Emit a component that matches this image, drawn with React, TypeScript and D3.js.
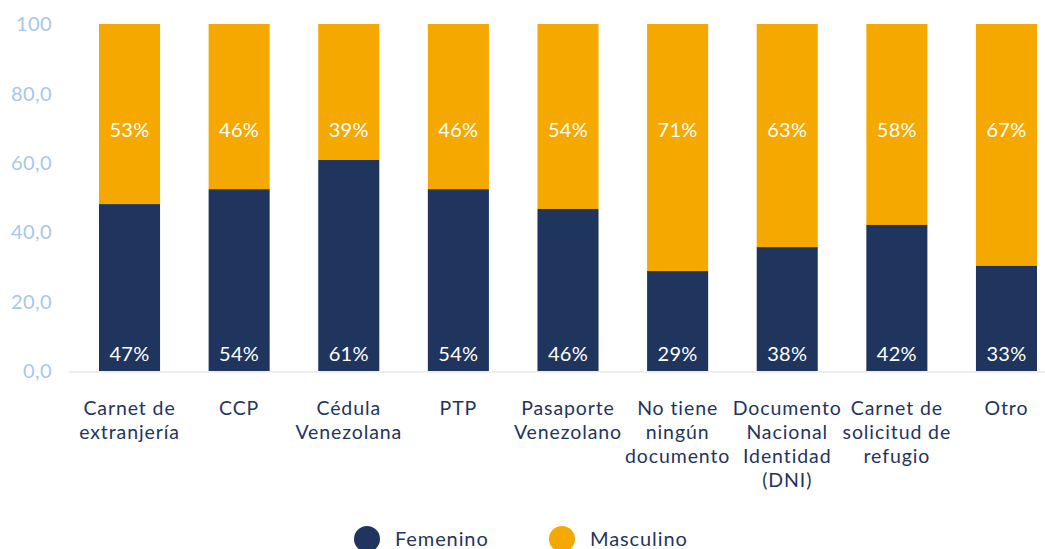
import React from "react";
import * as d3 from "d3";

const categories: string[][] = [
  ["Carnet de", "extranjería"],
  ["CCP"],
  ["Cédula", "Venezolana"],
  ["PTP"],
  ["Pasaporte", "Venezolano"],
  ["No tiene", "ningún", "documento"],
  ["Documento", "Nacional", "Identidad", "(DNI)"],
  ["Carnet de", "solicitud de", "refugio"],
  ["Otro"],
];
const femenino: number[] = [48.1, 52.4, 60.8, 52.4, 46.7, 28.8, 35.7, 42.1, 30.3];
const femeninoLabels: string[] = ["47%", "54%", "61%", "54%", "46%", "29%", "38%", "42%", "33%"];
const masculinoLabels: string[] = ["53%", "46%", "39%", "46%", "54%", "71%", "63%", "58%", "67%"];
const yTicks: number[] = [0, 20, 40, 60, 80, 100];
const seriesNames: string[] = ["Femenino", "Masculino"];

const W = 1045;
const H = 549;
const NAVY = "#1f355e";
const ORANGE = "#f5a800";
const TICK = "#a8c7eb";
const FONT = "Lato, 'Open Sans', sans-serif";

export default function App() {
  const ids = categories.map((_, i) => String(i));
  const x = d3.scaleBand<string>().domain(ids).range([99, 1037]).paddingInner(0.443).paddingOuter(0);
  const y = d3.scaleLinear().domain([0, 100]).range([371, 24]);
  const color = d3.scaleOrdinal<string, string>().domain(seriesNames).range([NAVY, ORANGE]);
  const fmt = (v: number) => (v === 100 ? "100" : d3.format(".1f")(v).replace(".", ","));

  return (
    <svg width={W} height={H} style={{ position: "absolute", left: 0, top: 0, fontFamily: FONT }}>
      <line x1={69} x2={W} y1={y(0) + 1} y2={y(0) + 1} stroke="#eeeeee" strokeWidth={2} />
      {yTicks.map((t) => (
        <text key={t} x={52} y={y(t)} dy="0.36em" textAnchor="end" fontSize={20} fill={TICK} letterSpacing={0.4}>
          {fmt(t)}
        </text>
      ))}
      {ids.map((id, i) => {
        const x0 = x(id)!;
        const bw = x.bandwidth();
        const cx = x0 + bw / 2;
        return (
          <g key={id}>
            <rect x={x0} y={y(100)} width={bw} height={y(femenino[i]) - y(100)} fill={color("Masculino")} />
            <rect x={x0} y={y(femenino[i])} width={bw} height={y(0) - y(femenino[i])} fill={color("Femenino")} />
            <text x={cx} y={y(0) - 17} dy="0.36em" textAnchor="middle" fontSize={20} fill="#ffffff" letterSpacing={0.3}>
              {femeninoLabels[i]}
            </text>
            <text x={cx} y={130} dy="0.36em" textAnchor="middle" fontSize={20} fill="#ffffff" letterSpacing={0.3}>
              {masculinoLabels[i]}
            </text>
            {categories[i].map((line, j) => (
              <text key={j} x={cx} y={408 + j * 24} dy="0.36em" textAnchor="middle" fontSize={19.5} fill={NAVY} letterSpacing={0.9}>
                {line}
              </text>
            ))}
          </g>
        );
      })}
      {seriesNames.map((s, i) => (
        <g key={s} transform={`translate(${367 + i * 195},539)`}>
          <circle r={13} fill={color(s)} />
          <text x={28} dy="0.36em" fontSize={20} fill={NAVY} letterSpacing={0.9}>
            {s}
          </text>
        </g>
      ))}
    </svg>
  );
}
